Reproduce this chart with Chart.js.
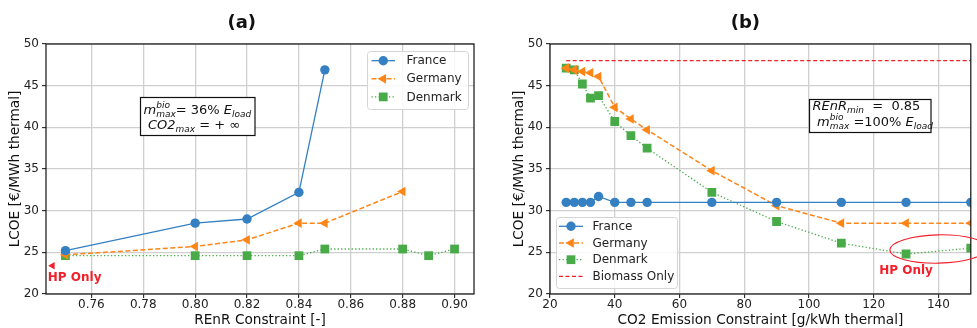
<!DOCTYPE html>
<html>
<head>
<meta charset="utf-8">
<script src="https://cdn.jsdelivr.net/npm/chart.js@4.4.0/dist/chart.umd.min.js"></script>
<style>
  html, body { margin: 0; padding: 0; background: #fff; }
  #wrap { position: relative; width: 977px; height: 328px; overflow: hidden; }
  #wrap canvas { position: absolute; top: 0; }
</style>
</head>
<body>
<div id="wrap">
  <canvas id="chart-a" width="490" height="328" style="left:0"></canvas>
  <canvas id="chart-b" width="487" height="328" style="left:490px"></canvas>
</div>
<script>
// ---- (a) REnR constraint sweep ----
const renrFrance = [0.75, 0.80, 0.82, 0.84, 0.85];
const lcoeFranceA = [25.2, 28.5, 29.0, 32.2, 46.9];
const renrGermany = [0.75, 0.80, 0.82, 0.84, 0.85, 0.88];
const lcoeGermanyA = [24.7, 25.7, 26.5, 28.5, 28.5, 32.3];
const renrDenmark = [0.75, 0.80, 0.82, 0.84, 0.85, 0.88, 0.89, 0.90];
const lcoeDenmarkA = [24.6, 24.6, 24.6, 24.6, 25.4, 25.4, 24.6, 25.4];
const hpOnlyMarkerA = [0.745, 23.4]; // red arrow marker "HP Only"
const xTicksA = [0.76, 0.78, 0.80, 0.82, 0.84, 0.86, 0.88, 0.90];
const xRangeA = [0.7425, 0.9075];

// ---- (b) CO2 emission constraint sweep ----
const co2Limits = [25, 27.5, 30, 32.5, 35, 40, 45, 50, 70, 90, 110, 130, 150];
const lcoeFranceB = [31.0, 31.0, 31.0, 31.0, 31.7, 31.0, 31.0, 31.0, 31.0, 31.0, 31.0, 31.0, 31.0];
const lcoeGermanyB = [47.1, 46.9, 46.7, 46.55, 46.1, 42.4, 41.0, 39.7, 34.8, 30.6, 28.5, 28.5, 28.5];
const lcoeDenmarkB = [47.1, 46.9, 45.2, 43.5, 43.8, 40.7, 39.0, 37.5, 32.2, 28.7, 26.1, 24.8, 25.5];
const biomassX = [25, 150];
const biomassY = [48, 48];
const xTicksB = [20, 40, 60, 80, 100, 120, 140];
const xRangeB = [20, 150];

// shared y axis
const yTicks = [20, 25, 30, 35, 40, 45, 50];
const yRange = [20, 50];

const FONT = '"DejaVu Sans", sans-serif';
const BLUE = '#3480c2';
const ORANGE = '#ff8517';
const GREEN = '#48ab48';
const RED = '#f2202a';

Chart.defaults.font.family = FONT;
Chart.defaults.color = '#222';

const zip = (xs, ys) => xs.map((x, i) => ({ x, y: ys[i] }));

function france(xs, ys) {
  return { label: 'France', data: zip(xs, ys), borderColor: BLUE, backgroundColor: BLUE,
    borderWidth: 1.3, pointStyle: 'circle', pointRadius: 4.7, pointBorderWidth: 0 };
}
function germany(xs, ys) {
  return { label: 'Germany', data: zip(xs, ys), borderColor: ORANGE, backgroundColor: ORANGE,
    borderWidth: 1.5, borderDash: [5, 2.5], pointStyle: 'triangle', pointRotation: 270,
    pointRadius: 5.6, pointBorderWidth: 0 };
}
function denmark(xs, ys) {
  return { label: 'Denmark', data: zip(xs, ys), borderColor: GREEN, backgroundColor: GREEN,
    borderWidth: 1.3, borderDash: [1.3, 2.2], pointStyle: 'rect', pointRadius: 6.2, pointBorderWidth: 0 };
}

// mathtext-like line: parts of {t, i} / {sub} / {sup, sub}
function richLine(ctx, x, y, parts) {
  ctx.textAlign = 'left';
  ctx.textBaseline = 'alphabetic';
  ctx.fillStyle = '#111';
  parts.forEach((p) => {
    if (p.sup !== undefined) {
      ctx.font = `italic 9px ${FONT}`;
      const w = Math.max(ctx.measureText(p.sup).width, ctx.measureText(p.sub).width);
      ctx.fillText(p.sup, x, y - 6);
      ctx.fillText(p.sub, x, y + 3);
      x += w;
    } else if (p.sub !== undefined) {
      ctx.font = `italic 9px ${FONT}`;
      ctx.fillText(p.sub, x, y + 3);
      x += ctx.measureText(p.sub).width;
    } else {
      ctx.font = `${p.i ? 'italic ' : ''}13px ${FONT}`;
      ctx.fillText(p.t, x, y);
      x += ctx.measureText(p.t).width;
    }
  });
}

function drawLegend(ctx, lg, datasets) {
  ctx.save();
  ctx.beginPath();
  ctx.roundRect(lg.x + 0.5, lg.y + 0.5, lg.w, lg.h, 3);
  ctx.fillStyle = 'rgba(255,255,255,0.85)';
  ctx.fill();
  ctx.strokeStyle = '#d4d4d4';
  ctx.lineWidth = 1;
  ctx.stroke();
  datasets.forEach((ds, i) => {
    const y = lg.row0 + i * lg.gap;
    ctx.beginPath();
    ctx.setLineDash(ds.borderDash || []);
    ctx.strokeStyle = ds.borderColor;
    ctx.lineWidth = ds.borderWidth;
    ctx.moveTo(lg.line0, y);
    ctx.lineTo(lg.line1, y);
    ctx.stroke();
    ctx.setLineDash([]);
    if (ds.pointRadius) {
      ctx.fillStyle = ds.backgroundColor;
      Chart.helpers.drawPoint(ctx, { pointStyle: ds.pointStyle, rotation: ds.pointRotation || 0,
        radius: ds.pointRadius, borderWidth: 0 }, (lg.line0 + lg.line1) / 2, y);
    }
    ctx.fillStyle = '#222';
    ctx.font = `12px ${FONT}`;
    ctx.textAlign = 'left';
    ctx.textBaseline = 'middle';
    ctx.fillText(ds.label, lg.text, y + 0.5);
  });
  ctx.restore();
}

function decoPlugin(opts) {
  return {
    id: 'deco',
    afterDatasetsDraw(chart) {
      const { ctx, chartArea: ca, scales } = chart;
      ctx.save();
      // frame
      ctx.strokeStyle = '#111';
      ctx.lineWidth = 1.2;
      ctx.strokeRect(ca.left, ca.top, ca.right - ca.left, ca.bottom - ca.top);
      // panel title
      ctx.fillStyle = '#111';
      ctx.font = `bold 18px ${FONT}`;
      ctx.textAlign = 'center';
      ctx.textBaseline = 'middle';
      ctx.fillText(opts.title, opts.titleX, 23);
      // axis titles
      ctx.font = `13.7px ${FONT}`;
      ctx.fillText(opts.xTitle, (ca.left + ca.right) / 2, 320);
      ctx.save();
      ctx.translate(ca.left - 31, (ca.top + ca.bottom) / 2);
      ctx.rotate(-Math.PI / 2);
      ctx.fillText('LCOE [€/MWh thermal]', 0, 0);
      ctx.restore();
      // HP Only label
      ctx.fillStyle = RED;
      ctx.font = `bold 12px ${FONT}`;
      ctx.textAlign = opts.hpAlign;
      ctx.fillText('HP Only', scales.x.getPixelForValue(opts.hpText[0]), scales.y.getPixelForValue(opts.hpText[1]));
      if (opts.ellipse) {
        const [ex, ey, ew, eh] = opts.ellipse;
        const cx = scales.x.getPixelForValue(ex), cy = scales.y.getPixelForValue(ey);
        const rx = Math.abs(scales.x.getPixelForValue(ex + ew / 2) - cx);
        const ry = Math.abs(scales.y.getPixelForValue(ey + eh / 2) - cy);
        ctx.beginPath();
        ctx.ellipse(cx, cy, rx, ry, -0.02, 0, Math.PI * 2);
        ctx.strokeStyle = RED;
        ctx.lineWidth = 1.1;
        ctx.stroke();
      }
      // parameter box
      const b = opts.box;
      ctx.fillStyle = '#fff';
      ctx.fillRect(b.x, b.y, b.w, b.h);
      ctx.strokeStyle = '#111';
      ctx.lineWidth = 1.2;
      ctx.strokeRect(b.x, b.y, b.w, b.h);
      b.lines.forEach((ln) => richLine(ctx, b.x + ln.dx, b.y + ln.dy, ln.parts));
      // legend
      drawLegend(ctx, opts.legend, chart.data.datasets.filter((d) => d.label));
      ctx.restore();
    },
  };
}

function axes(xRange, xTicks, xFmt, yWidth) {
  const tickFont = { family: FONT, size: 12 };
  return {
    x: {
      type: 'linear', min: xRange[0], max: xRange[1],
      afterBuildTicks: (s) => { s.ticks = xTicks.map((v) => ({ value: v })); },
      afterFit: (s) => { s.height = 34; },
      grid: { color: '#cfcfcf', lineWidth: 1.3, tickColor: '#111', tickLength: 4, tickWidth: 1 },
      border: { display: false },
      ticks: { font: tickFont, color: '#222', padding: 0, maxRotation: 0, autoSkip: false, callback: xFmt },
    },
    y: {
      type: 'linear', min: yRange[0], max: yRange[1],
      afterBuildTicks: (s) => { s.ticks = yTicks.map((v) => ({ value: v })); },
      afterFit: (s) => { s.width = yWidth; },
      grid: { color: '#cfcfcf', lineWidth: 1.3, tickColor: '#111', tickLength: 4, tickWidth: 1 },
      border: { display: false },
      ticks: { font: tickFont, color: '#222', padding: 3, callback: (v) => String(v) },
    },
  };
}

const baseOptions = {
  responsive: false, animation: false, devicePixelRatio: 1, events: [],
  plugins: { legend: { display: false }, tooltip: { enabled: false } },
};

// ---------- chart (a) ----------
new Chart(document.getElementById('chart-a'), {
  type: 'line',
  data: {
    datasets: [
      france(renrFrance, lcoeFranceA),
      germany(renrGermany, lcoeGermanyA),
      denmark(renrDenmark, lcoeDenmarkA),
      { label: '', data: [{ x: hpOnlyMarkerA[0], y: hpOnlyMarkerA[1] }], showLine: false,
        backgroundColor: RED, borderColor: RED, pointStyle: 'triangle', pointRotation: 270,
        pointRadius: 4.3, pointBorderWidth: 0 },
    ],
  },
  options: {
    ...baseOptions,
    layout: { padding: { top: 44, right: 16, left: 0, bottom: 0 } },
    scales: axes(xRangeA, xTicksA, (v) => Number(v).toFixed(2), 46),
  },
  plugins: [decoPlugin({
    title: '(a)', titleX: 241.7,
    xTitle: 'REnR Constraint [-]',
    hpText: [0.7432, 21.9], hpAlign: 'left',
    box: { x: 140.5, y: 97.5, w: 114.5, h: 38,
      lines: [
        { dx: 3, dy: 16.5, parts: [{ t: 'm', i: true }, { sup: 'bio', sub: 'max' }, { t: '= 36% ' }, { t: 'E', i: true }, { sub: 'load' }] },
        { dx: 7.5, dy: 31.5, parts: [{ t: 'CO2', i: true }, { sub: 'max' }, { t: ' = + ∞' }] },
      ] },
    legend: { x: 367, y: 51, w: 101, h: 58, row0: 60.7, gap: 18.1, line0: 371.5, line1: 395, text: 406.5 },
  })],
});

// ---------- chart (b) ----------
new Chart(document.getElementById('chart-b'), {
  type: 'line',
  data: {
    datasets: [
      france(co2Limits, lcoeFranceB),
      germany(co2Limits, lcoeGermanyB),
      denmark(co2Limits, lcoeDenmarkB),
      { label: 'Biomass Only', data: zip(biomassX, biomassY), borderColor: RED, backgroundColor: RED,
        borderWidth: 1.3, borderDash: [4, 2.5], pointRadius: 0 },
    ],
  },
  options: {
    ...baseOptions,
    layout: { padding: { top: 44, right: 0, left: 0, bottom: 0 } },
    scales: axes(xRangeB, xTicksB, (v) => String(v), 60),
  },
  plugins: [decoPlugin({
    title: '(b)', titleX: 255.4,
    xTitle: 'CO2 Emission Constraint [g/kWh thermal]',
    hpText: [130, 22.8], hpAlign: 'center',
    ellipse: [140, 25.4, 30, 3.4],
    box: { x: 319.5, y: 99.5, w: 121.5, h: 33,
      lines: [
        { dx: 3, dy: 10.5, parts: [{ t: 'REnR', i: true }, { sub: 'min' }, { t: '  =  0.85' }] },
        { dx: 7.5, dy: 26, parts: [{ t: 'm', i: true }, { sup: 'bio', sub: 'max' }, { t: ' =100% ' }, { t: 'E', i: true }, { sub: 'load' }] },
      ] },
    legend: { x: 66, y: 217, w: 121, h: 71, row0: 226.3, gap: 16.7, line0: 69, line1: 93, text: 102.5 },
  })],
});
</script>
</body>
</html>
